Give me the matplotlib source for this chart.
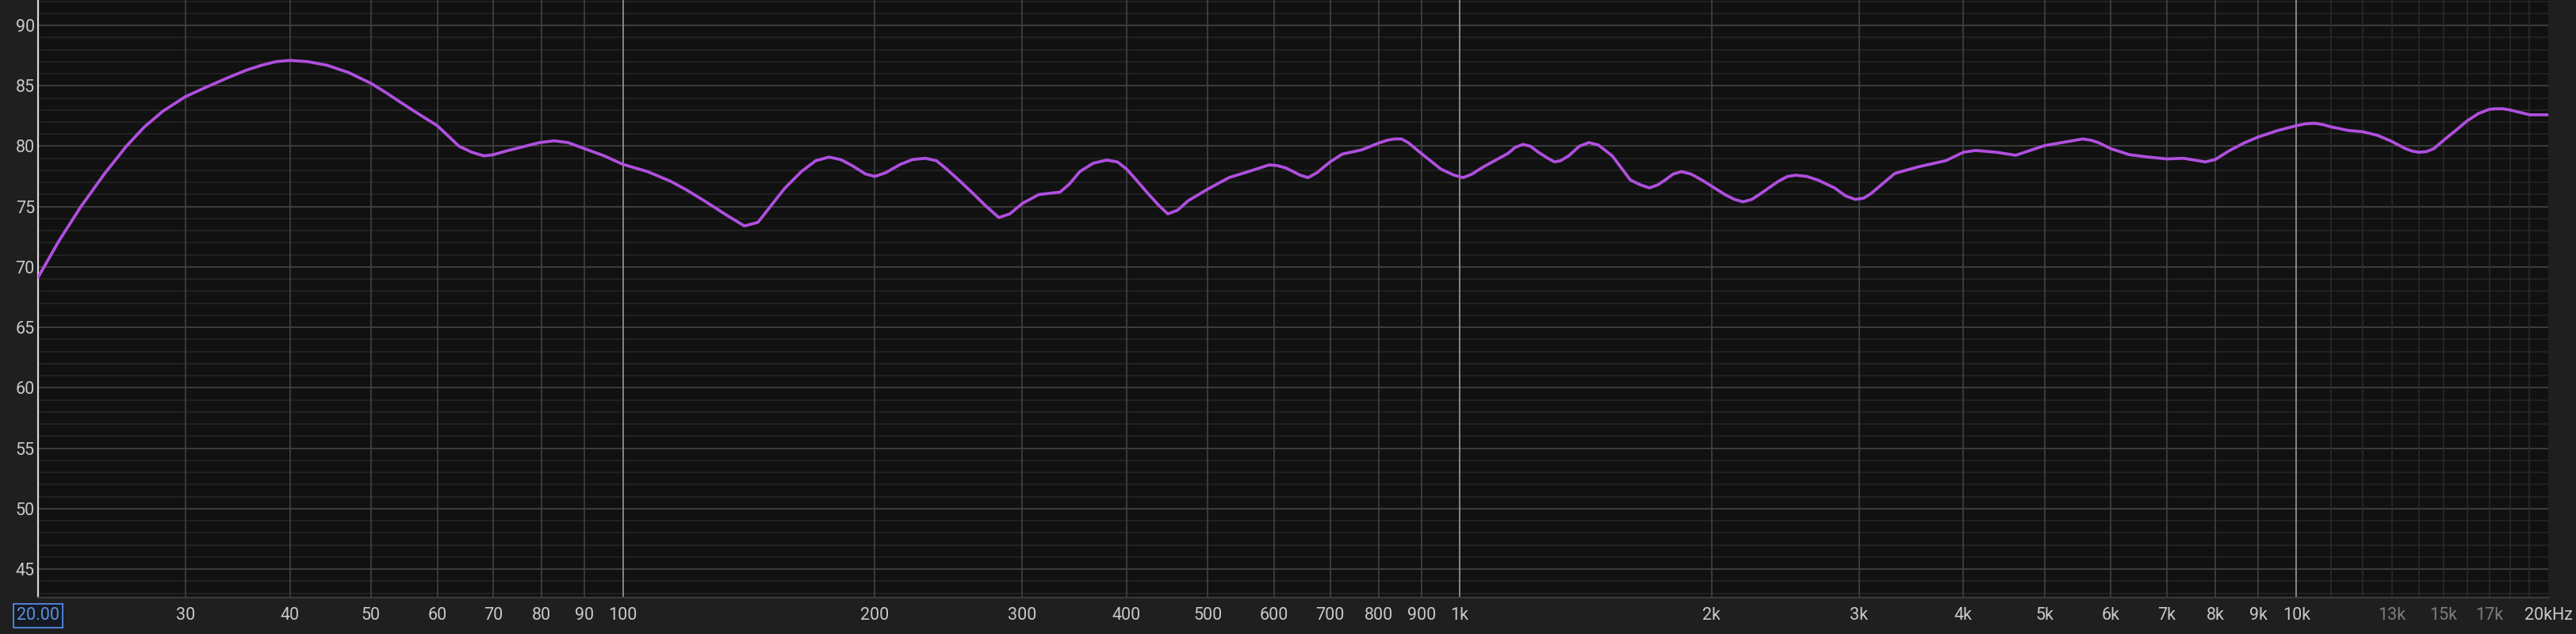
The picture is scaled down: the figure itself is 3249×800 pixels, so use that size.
"""
Frequency response plot, REW-style dark theme.
Saves out.png (3249x800).
"""

import matplotlib
matplotlib.use("Agg")
import matplotlib.pyplot as plt
from matplotlib import font_manager


# ---------------------------------------------------------------------------
# data
# ---------------------------------------------------------------------------

freq_hz = [
    20, 21.2, 22.5, 24.0, 25.5, 26.8, 28.2, 30, 31.8, 33.8, 35.5, 37.0, 38.5,
    40, 42, 44.3, 47, 50, 52.2, 54.6, 57.2, 60, 63.7, 66, 68.2, 70, 72.5, 76.4,
    79.5, 82.8, 86, 90, 95, 100, 107, 114, 119, 125, 133, 139.7, 145, 150, 156,
    163.4, 170, 176.3, 182, 187.9, 195, 200, 206, 214.6, 222, 230, 237, 243.8,
    252, 262, 272, 281.4, 290, 300, 314, 333, 342, 351.6, 365, 378.6, 390, 400,
    412, 424, 437, 448, 460, 474, 500, 530, 565, 592, 605, 620, 645, 659, 675,
    700, 724, 764, 800, 820, 836, 852, 868, 900, 950, 985, 1010, 1035, 1068,
    1142, 1165, 1190, 1215, 1242, 1275, 1298, 1320, 1350, 1390, 1427, 1465,
    1522, 1600, 1645, 1686, 1725, 1760, 1800, 1842, 1890, 1948, 2000, 2075,
    2130, 2181, 2235, 2292, 2404, 2465, 2524, 2600, 2680, 2806, 2890, 2970,
    3040, 3104, 3190, 3312, 3536, 3810, 4000, 4136, 4380, 4620, 5000, 5344,
    5450, 5552, 5680, 5800, 6000, 6314, 6657, 7000, 7334, 7560, 7785, 8000,
    8300, 8654, 9000, 9500, 10000, 10250, 10500, 10750, 11000, 11550, 12000,
    12500, 13000, 13500, 13750, 14000, 14300, 14600, 15000, 15500, 16000,
    16500, 17000, 17300, 17650, 18000, 18500, 19000, 20000,
]
spl_db = [
    69.15, 72.2, 75.0, 77.7, 80.0, 81.6, 82.9, 84.1, 84.9, 85.7, 86.3, 86.7,
    87.0, 87.1, 87.0, 86.7, 86.1, 85.2, 84.4, 83.5, 82.6, 81.7, 80.0, 79.5,
    79.2, 79.3, 79.6, 80.0, 80.3, 80.45, 80.3, 79.8, 79.2, 78.5, 77.9, 77.1,
    76.4, 75.5, 74.3, 73.4, 73.7, 75.0, 76.5, 77.9, 78.8, 79.1, 78.9, 78.4,
    77.7, 77.5, 77.8, 78.5, 78.9, 79.0, 78.8, 78.1, 77.2, 76.1, 75.0, 74.1,
    74.4, 75.25, 76.0, 76.2, 76.9, 77.9, 78.6, 78.85, 78.7, 78.1, 77.1, 76.1,
    75.1, 74.4, 74.7, 75.5, 76.45, 77.4, 78.0, 78.45, 78.4, 78.2, 77.6, 77.4,
    77.8, 78.7, 79.35, 79.7, 80.26, 80.5, 80.6, 80.6, 80.3, 79.4, 78.1, 77.6,
    77.4, 77.7, 78.3, 79.4, 79.9, 80.15, 80.0, 79.5, 79.0, 78.7, 78.8, 79.2,
    80.0, 80.3, 80.1, 79.2, 77.2, 76.8, 76.55, 76.8, 77.2, 77.7, 77.9, 77.7,
    77.2, 76.7, 76.0, 75.6, 75.4, 75.6, 76.1, 77.1, 77.5, 77.6, 77.5, 77.2,
    76.55, 75.9, 75.6, 75.7, 76.1, 76.8, 77.75, 78.3, 78.8, 79.5, 79.65, 79.5,
    79.25, 80.05, 80.4, 80.5, 80.6, 80.5, 80.3, 79.8, 79.3, 79.1, 78.95, 79.0,
    78.85, 78.7, 78.9, 79.6, 80.26, 80.76, 81.3, 81.7, 81.85, 81.9, 81.8, 81.6,
    81.3, 81.2, 80.9, 80.4, 79.8, 79.6, 79.5, 79.55, 79.8, 80.5, 81.3, 82.1,
    82.7, 83.05, 83.1, 83.1, 83.0, 82.8, 82.6, 82.6,
]

x_ticks = [20, 30, 40, 50, 60, 70, 80, 90, 100, 200, 300, 400, 500, 600, 700,
           800, 900, 1000, 2000, 3000, 4000, 5000, 6000, 7000, 8000, 9000,
           10000, 13000, 15000, 17000, 20000]
x_labels = ["20.00", "30", "40", "50", "60", "70", "80", "90", "100", "200",
            "300", "400", "500", "600", "700", "800", "900", "1k", "2k", "3k",
            "4k", "5k", "6k", "7k", "8k", "9k", "10k", "13k", "15k", "17k",
            "20kHz"]
dim_labels = ["13k", "15k", "17k"]

grid_main = [30, 40, 50, 60, 70, 80, 90, 200, 300, 400, 500, 600, 700, 800,
             900, 2000, 3000, 4000, 5000, 6000, 7000, 8000, 9000]
grid_decade = [100, 1000, 10000]
grid_fine = [11000, 12000, 13000, 14000, 15000, 16000, 17000, 18000, 19000]

y_ticks = [45, 50, 55, 60, 65, 70, 75, 80, 85, 90]
y_minor = list(range(43, 93))

# ---------------------------------------------------------------------------
# style
# ---------------------------------------------------------------------------

available = {f.name for f in font_manager.fontManager.ttflist}
font = "Liberation Sans Narrow" if "Liberation Sans Narrow" in available else "Roboto"
plt.rcParams["font.family"] = [font, "DejaVu Sans"]

OUTER_BG = "#1f1f1f"
PLOT_BG = "#111111"
LABEL_COL = "#c9c9c9"

fig = plt.figure(figsize=(32.49, 8), dpi=100, facecolor=OUTER_BG)
ax = fig.add_axes([48 / 3249, 46 / 800, (3214 - 48) / 3249, 754 / 800])
ax.set_facecolor(PLOT_BG)

ax.set_xscale("log")
ax.set_xlim(20, 20000)
ax.set_ylim(42.65, 92.1)

# horizontal grid: 1 dB minor, 5 dB major
for v in y_minor:
    major = v % 5 == 0
    ax.axhline(v, color="#3d3d3d" if major else "#262626",
               lw=1.4 if major else 1.1, zorder=1)

# vertical grid
for f in grid_fine:
    ax.axvline(f, color="#2c2c2c", lw=1.1, zorder=1)
for f in grid_main:
    ax.axvline(f, color="#424242", lw=1.2, zorder=1)
for f in grid_decade:
    ax.axvline(f, color="#9a9a9a", lw=1.2, zorder=2)

ax.plot(freq_hz, spl_db, color="#b04fdf", lw=2.7, solid_joinstyle="round",
        solid_capstyle="round", zorder=5)

for side in ["top", "right"]:
    ax.spines[side].set_visible(False)
ax.spines["left"].set_color("#d6d6d6")
ax.spines["left"].set_linewidth(1.6)
ax.spines["bottom"].set_color("#3d3d3d")
ax.spines["bottom"].set_linewidth(1.4)

ax.set_xticks(x_ticks)
ax.set_xticklabels(x_labels)
ax.xaxis.set_minor_locator(matplotlib.ticker.NullLocator())
ax.set_yticks(y_ticks)
ax.tick_params(axis="both", length=0, labelsize=15.5, colors=LABEL_COL)
ax.tick_params(axis="x", pad=9)
ax.tick_params(axis="y", pad=3)

for lab in ax.get_xticklabels():
    if lab.get_text() in dim_labels:
        lab.set_color("#7d7d7d")
    elif lab.get_text() == "20.00":
        lab.set_color("#5f8fdc")
        lab.set_bbox(dict(boxstyle="square,pad=0.2", facecolor="#151a22",
                          edgecolor="#4f82d6", linewidth=1.4))

fig.savefig("out.png", dpi=100, facecolor=OUTER_BG)
plt.close(fig)
